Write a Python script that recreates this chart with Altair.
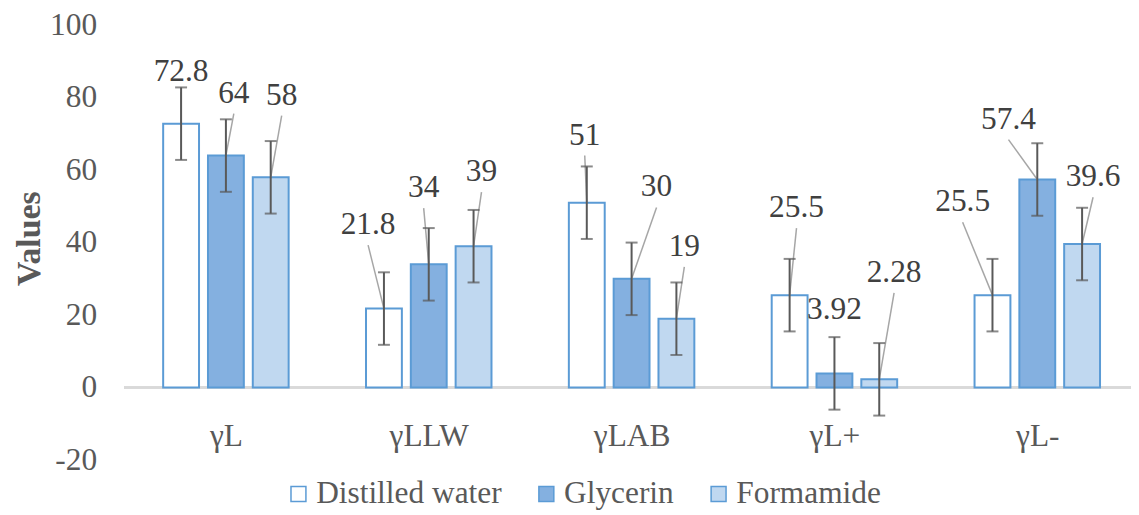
import json
import altair as alt
import pandas as pd

# ---------------- data ----------------
categories = ["γL", "γLLW", "γLAB", "γL+", "γL-"]
liquids = ["Distilled water", "Glycerin", "Formamide"]

distilled_water = [72.8, 21.8, 51, 25.5, 25.5]
glycerin = [64, 34, 30, 3.92, 57.4]
formamide = [58, 39, 19, 2.28, 39.6]

err_distilled = [10, 10, 10, 10, 10]
err_glycerin = [10, 10, 10, 10, 10]
err_formamide = [10, 10, 10, 10, 10]

y_ticks = [-20, 0, 20, 40, 60, 80, 100]

# data-label anchors (horizontal shift in category units, height in value units)
label_dx_distilled = [-0.221, -0.299, -0.231, -0.187, -0.368]
label_dx_glycerin = [0.039, -0.025, 0.123, 0.0, -0.142]
label_dx_formamide = [0.275, 0.260, 0.260, 0.294, 0.275]
label_y_distilled = [87.1, 44.8, 69.5, 49.5, 51.1]
label_y_glycerin = [81.1, 55.0, 55.2, 21.5, 73.9]
label_y_formamide = [80.5, 59.4, 38.8, 31.6, 58.0]
leader_distilled = [True, True, True, True, True]
leader_glycerin = [True, True, True, False, True]
leader_formamide = [True, True, True, True, True]

# ---------------- styling ----------------
FONT = "Liberation Serif, Times New Roman, DejaVu Serif, serif"
FS = 31.5
BORDER = "#5b9bd5"
FILLS = ["#ffffff", "#84b0e0", "#c0d8f0"]
GROUP_STEP = 0.2209
HALF_BAR = 0.0884
LEADER_GAP = 5.5

series = [distilled_water, glycerin, formamide]
errs = [err_distilled, err_glycerin, err_formamide]
ldx = [label_dx_distilled, label_dx_glycerin, label_dx_formamide]
ly = [label_y_distilled, label_y_glycerin, label_y_formamide]
leaders = [leader_distilled, leader_glycerin, leader_formamide]

rows = []
for j, liq in enumerate(liquids):
    for i, cat in enumerate(categories):
        v = series[j][i]
        e = errs[j][i]
        xc = i + (j - 1) * GROUP_STEP
        rows.append(
            dict(
                category=cat,
                liquid=liq,
                value=v,
                lo=v - e,
                hi=v + e,
                xc=xc,
                x0=xc - HALF_BAR,
                x1=xc + HALF_BAR,
                lx=i + ldx[j][i],
                ly=ly[j][i],
                ly0=ly[j][i] - LEADER_GAP,
                leader=leaders[j][i],
                label=f"{v:g}",
                zero=0,
            )
        )
df = pd.DataFrame(rows)

xscale = alt.Scale(domain=[-0.5, 4.462], nice=False, zero=False)
yscale = alt.Scale(domain=[min(y_ticks), max(y_ticks)], nice=False, zero=False)

label_expr = json.dumps(categories) + "[datum.value]"

X_AXIS = alt.Axis(
    values=list(range(len(categories))),
    labelExpr=label_expr,
    title=None,
    grid=False,
    domain=False,
    ticks=False,
    offset=-24,
    labelPadding=0,
    labelBaseline="middle",
    labelFont=FONT,
    labelFontSize=FS,
    labelColor="#595959",
)
Y_AXIS = alt.Axis(
    values=y_ticks,
    labelExpr="'' + datum.value",
    title="Values",
    grid=False,
    domain=False,
    ticks=False,
    labelPadding=28,
    labelFont=FONT,
    labelFontSize=FS,
    labelColor="#595959",
    titleFont=FONT,
    titleFontSize=34,
    titleFontWeight="bold",
    titleColor="#595959",
    titleX=-95,
    titleY=214,
    titleAngle=270,
    titleAlign="center",
    titleBaseline="middle",
)


def X(field):
    return alt.X(field, type="quantitative", scale=xscale, axis=X_AXIS)


def Y(field):
    return alt.Y(field, type="quantitative", scale=yscale, axis=Y_AXIS)


base = alt.Chart(df)

zero_line = base.mark_rule(color="#d9d9d9", strokeWidth=2).encode(y=Y("zero"))

bars = base.mark_bar(stroke=BORDER, strokeWidth=2).encode(
    x=X("x0"),
    x2="x1:Q",
    y=Y("value"),
    y2="zero:Q",
    fill=alt.Color(
        "liquid:N",
        scale=alt.Scale(domain=liquids, range=FILLS),
        legend=alt.Legend(
            title=None,
            orient="none",
            direction="horizontal",
            legendX=159,
            legendY=455,
            symbolType="square",
            symbolSize=225,
            symbolStrokeColor=BORDER,
            symbolStrokeWidth=1.5,
            symbolOpacity=1,
            labelFont=FONT,
            labelFontSize=FS,
            labelColor="#595959",
            labelOffset=2,
            columnPadding=29,
            labelLimit=400,
        ),
    ),
)

leader_lines = base.transform_filter("datum.leader").mark_rule(
    color="#a6a6a6", strokeWidth=1.5
).encode(x=X("lx"), y=Y("ly0"), x2="xc:Q", y2="value:Q")

err_rules = base.mark_rule(color="#595959", strokeWidth=2).encode(
    x=X("xc"), y=Y("lo"), y2="hi:Q"
)

cap_lo = base.mark_tick(orient="horizontal", size=12, thickness=2, color="#595959").encode(
    x=X("xc"), y=Y("lo")
)
cap_hi = base.mark_tick(orient="horizontal", size=12, thickness=2, color="#595959").encode(
    x=X("xc"), y=Y("hi")
)

labels = base.mark_text(
    font=FONT, fontSize=FS, color="#404040", align="center", baseline="middle"
).encode(x=X("lx"), y=Y("ly"), text="label:N")

chart = (
    alt.layer(zero_line, bars, leader_lines, err_rules, cap_lo, cap_hi, labels)
    .properties(
        width=1011,
        height=437,
        background="white",
        autosize=alt.AutoSizeParams(type="none"),
        padding={"left": 117, "top": 16, "right": 0, "bottom": 53},
    )
    .configure_view(stroke=None)
)

chart.save("out.html", embed_options={"renderer": "svg", "actions": False})
